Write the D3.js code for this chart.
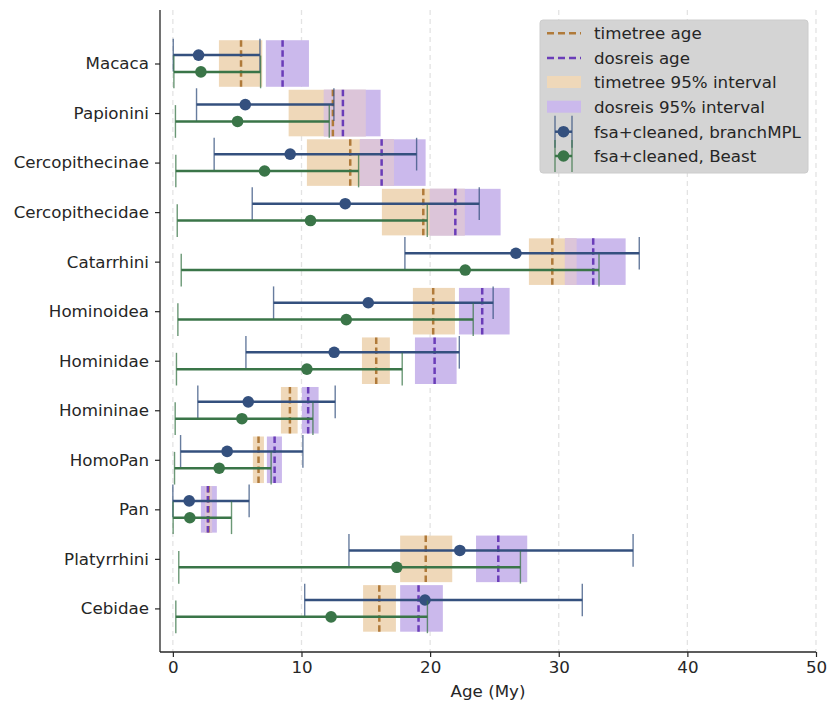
<!DOCTYPE html>
<html>
<head>
<meta charset="utf-8">
<script src="https://cdn.jsdelivr.net/npm/d3@7"></script>
<style>
  body { margin: 0; background: #fff; }
  text { font-family: "DejaVu Sans", sans-serif; fill: #262626; }
</style>
</head>
<body>
<svg id="chart" width="829" height="701"></svg>
<script>
let clades = ['Macaca', 'Papionini', 'Cercopithecinae', 'Cercopithecidae', 'Catarrhini', 'Hominoidea',
    'Hominidae', 'Homininae', 'HomoPan', 'Pan', 'Platyrrhini', 'Cebidae'];

// timetree age + 95% interval
let ttAge = [5.3, 12.44, 13.79, 19.47, 29.5, 20.24, 15.81, 9.1, 6.66, 2.77, 19.66, 16.05];
let ttLo  = [3.58, 9.0, 10.42, 16.25, 27.68, 18.66, 14.7, 8.4, 6.22, 2.5, 17.67, 14.79];
let ttHi  = [6.95, 15.0, 17.19, 22.7, 31.39, 21.93, 16.87, 9.7, 7.08, 3.05, 21.72, 17.34];

// dosreis age + 95% interval
let drAge = [8.53, 13.22, 16.23, 21.96, 32.68, 24.05, 20.35, 10.52, 7.91, 2.72, 25.3, 19.1];
let drLo  = [7.23, 11.74, 14.54, 19.98, 30.48, 22.24, 18.82, 10.03, 7.31, 2.18, 23.57, 17.67];
let drHi  = [10.58, 16.15, 19.65, 25.48, 35.2, 26.18, 22.06, 11.33, 8.48, 3.42, 27.55, 20.99];

// fsa+cleaned, branchMPL
let bmplAge = [2.0, 5.63, 9.12, 13.4, 26.67, 15.19, 12.54, 5.86, 4.22, 1.27, 22.31, 19.6];
let bmplLo  = [0.03, 1.84, 3.21, 6.17, 18.04, 7.83, 5.68, 1.94, 0.6, 0.0, 13.69, 10.25];
let bmplHi  = [6.77, 12.52, 18.95, 23.82, 36.26, 24.9, 22.27, 12.62, 10.11, 5.93, 35.78, 31.83];

// fsa+cleaned, Beast
let beastAge = [2.18, 5.03, 7.13, 10.7, 22.73, 13.48, 10.42, 5.37, 3.6, 1.32, 17.41, 12.3];
let beastLo  = [0.08, 0.2, 0.23, 0.34, 0.65, 0.39, 0.28, 0.18, 0.13, 0.02, 0.46, 0.23];
let beastHi  = [6.82, 12.16, 14.44, 19.78, 33.13, 23.35, 17.83, 10.89, 7.64, 4.56, 27.02, 19.79];

let xTicks = [0, 10, 20, 30, 40, 50];

let colorTT = '#efd8b9';
let colorDR = '#cbb9ec';
let colorBoth = '#dcc5d9';
let colorTTLine = '#b07a3a';
let colorDRLine = '#6a3db8';
let colorBmpl = '#34507e';
let colorBeast = '#3a7548';
let colorText = '#262626';
let fontSize = '16.7px';

let svg = d3.select('#chart');
let plotLeft = 160, plotRight = 816, plotTop = 10, plotBottom = 652;

let x = d3.scaleLinear().domain([-1, 50]).range([plotLeft, plotRight]);
let y = d3.scaleLinear().domain([-1.08, 11.88]).range([plotTop, plotBottom]);

let halfBox = 0.47, offset = 0.17, capHalf = 0.33;
let idx = d3.range(clades.length);

// grid
svg.append('g').selectAll('line').data(xTicks).join('line')
    .attr('x1', d => x(d)).attr('x2', d => x(d))
    .attr('y1', plotTop).attr('y2', plotBottom)
    .attr('stroke', '#e3e3e3').attr('stroke-width', 1.3)
    .attr('stroke-dasharray', '5,4');

// intervals
function intervals(lo, hi, color, rows) {
    svg.append('g').selectAll('rect').data(rows).join('rect')
        .attr('x', i => x(lo[i]))
        .attr('width', i => x(hi[i]) - x(lo[i]))
        .attr('y', i => y(i - halfBox))
        .attr('height', i => y(i + halfBox) - y(i - halfBox))
        .attr('fill', color);
}
intervals(ttLo, ttHi, colorTT, idx);
intervals(drLo, drHi, colorDR, idx);

// where the two intervals overlap
let bothLo = idx.map(i => Math.max(ttLo[i], drLo[i]));
let bothHi = idx.map(i => Math.min(ttHi[i], drHi[i]));
intervals(bothLo, bothHi, colorBoth, idx.filter(i => bothHi[i] > bothLo[i]));

function ageLines(age, color) {
    svg.append('g').selectAll('line').data(idx).join('line')
        .attr('x1', i => x(age[i])).attr('x2', i => x(age[i]))
        .attr('y1', i => y(i - halfBox)).attr('y2', i => y(i + halfBox))
        .attr('stroke', color).attr('stroke-width', 2.5)
        .attr('stroke-dasharray', '6.5,3.5');
}
ageLines(ttAge, colorTTLine);
ageLines(drAge, colorDRLine);

// error bars
function errorBars(age, lo, hi, dy, color) {
    let g = svg.append('g');
    g.selectAll('line.bar').data(idx).join('line').attr('class', 'bar')
        .attr('x1', i => x(lo[i])).attr('x2', i => x(hi[i]))
        .attr('y1', i => y(i + dy)).attr('y2', i => y(i + dy))
        .attr('stroke', color).attr('stroke-width', 2.5);
    [lo, hi].forEach(arr => {
        g.append('g').selectAll('line').data(idx).join('line')
            .attr('x1', i => x(arr[i])).attr('x2', i => x(arr[i]))
            .attr('y1', i => y(i + dy - capHalf)).attr('y2', i => y(i + dy + capHalf))
            .attr('stroke', color).attr('stroke-width', 1.4).attr('stroke-opacity', 0.75);
    });
    g.selectAll('circle').data(idx).join('circle')
        .attr('cx', i => x(age[i])).attr('cy', i => y(i + dy))
        .attr('r', 5.8).attr('fill', color);
}
errorBars(bmplAge, bmplLo, bmplHi, -offset, colorBmpl);
errorBars(beastAge, beastLo, beastHi, offset, colorBeast);

// axes
let xAxis = svg.append('g')
    .attr('transform', `translate(0,${plotBottom})`)
    .call(d3.axisBottom(x).tickValues(xTicks).tickSize(5).tickPadding(4).tickSizeOuter(0));
xAxis.select('.domain').remove();
svg.append('line').attr('x1', plotLeft).attr('x2', plotRight).attr('y1', plotBottom).attr('y2', plotBottom)
    .attr('stroke', colorText).attr('stroke-width', 1.3);

let yAxis = svg.append('g')
    .attr('transform', `translate(${plotLeft},0)`)
    .call(d3.axisLeft(y).tickValues(idx).tickFormat(i => clades[i]).tickSize(5).tickPadding(6));
yAxis.select('.domain').remove();
svg.append('line').attr('x1', plotLeft).attr('x2', plotLeft).attr('y1', plotTop).attr('y2', plotBottom)
    .attr('stroke', colorText).attr('stroke-width', 1.3);

svg.selectAll('.tick line').attr('stroke', colorText).attr('stroke-width', 1.2);
svg.selectAll('.tick text').style('font-size', fontSize)
    .style('font-family', '"DejaVu Sans", sans-serif').attr('fill', colorText);

svg.append('text')
    .attr('x', (plotLeft + plotRight) / 2).attr('y', 697)
    .attr('text-anchor', 'middle').style('font-size', fontSize)
    .text('Age (My)');

// legend
let lg = svg.append('g');
lg.append('rect').attr('x', 540).attr('y', 20).attr('width', 268).attr('height', 153)
    .attr('rx', 3).attr('fill', '#d4d4d4').attr('stroke', '#cccccc');

let legendY = [33.3, 58, 82, 106.7, 131.7, 156];
let legendLabels = ['timetree age', 'dosreis age', 'timetree 95% interval', 'dosreis 95% interval',
    'fsa+cleaned, branchMPL', 'fsa+cleaned, Beast'];
let hx0 = 547, hx1 = 581;

[colorTTLine, colorDRLine].forEach((c, k) => {
    lg.append('line').attr('x1', hx0).attr('x2', hx1)
        .attr('y1', legendY[k]).attr('y2', legendY[k])
        .attr('stroke', c).attr('stroke-width', 2.5).attr('stroke-dasharray', '7,4');
});
[colorTT, colorDR].forEach((c, k) => {
    lg.append('rect').attr('x', hx0).attr('y', legendY[k + 2] - 6)
        .attr('width', hx1 - hx0).attr('height', 12)
        .attr('fill', c);
});
[colorBmpl, colorBeast].forEach((c, k) => {
    let cy = legendY[k + 4];
    lg.append('line').attr('x1', 555).attr('x2', 572).attr('y1', cy).attr('y2', cy)
        .attr('stroke', c).attr('stroke-width', 2.5);
    [555, 572].forEach(cx => {
        lg.append('line').attr('x1', cx).attr('x2', cx).attr('y1', cy - 16).attr('y2', cy + 16)
            .attr('stroke', c).attr('stroke-width', 1.4).attr('stroke-opacity', 0.75);
    });
    lg.append('circle').attr('cx', 563.5).attr('cy', cy).attr('r', 5.8).attr('fill', c);
});
lg.append('g').selectAll('text').data(legendLabels).join('text')
    .attr('x', 594).attr('y', (d, k) => legendY[k])
    .attr('dy', '0.36em').style('font-size', fontSize)
    .text(d => d);
</script>
</body>
</html>
